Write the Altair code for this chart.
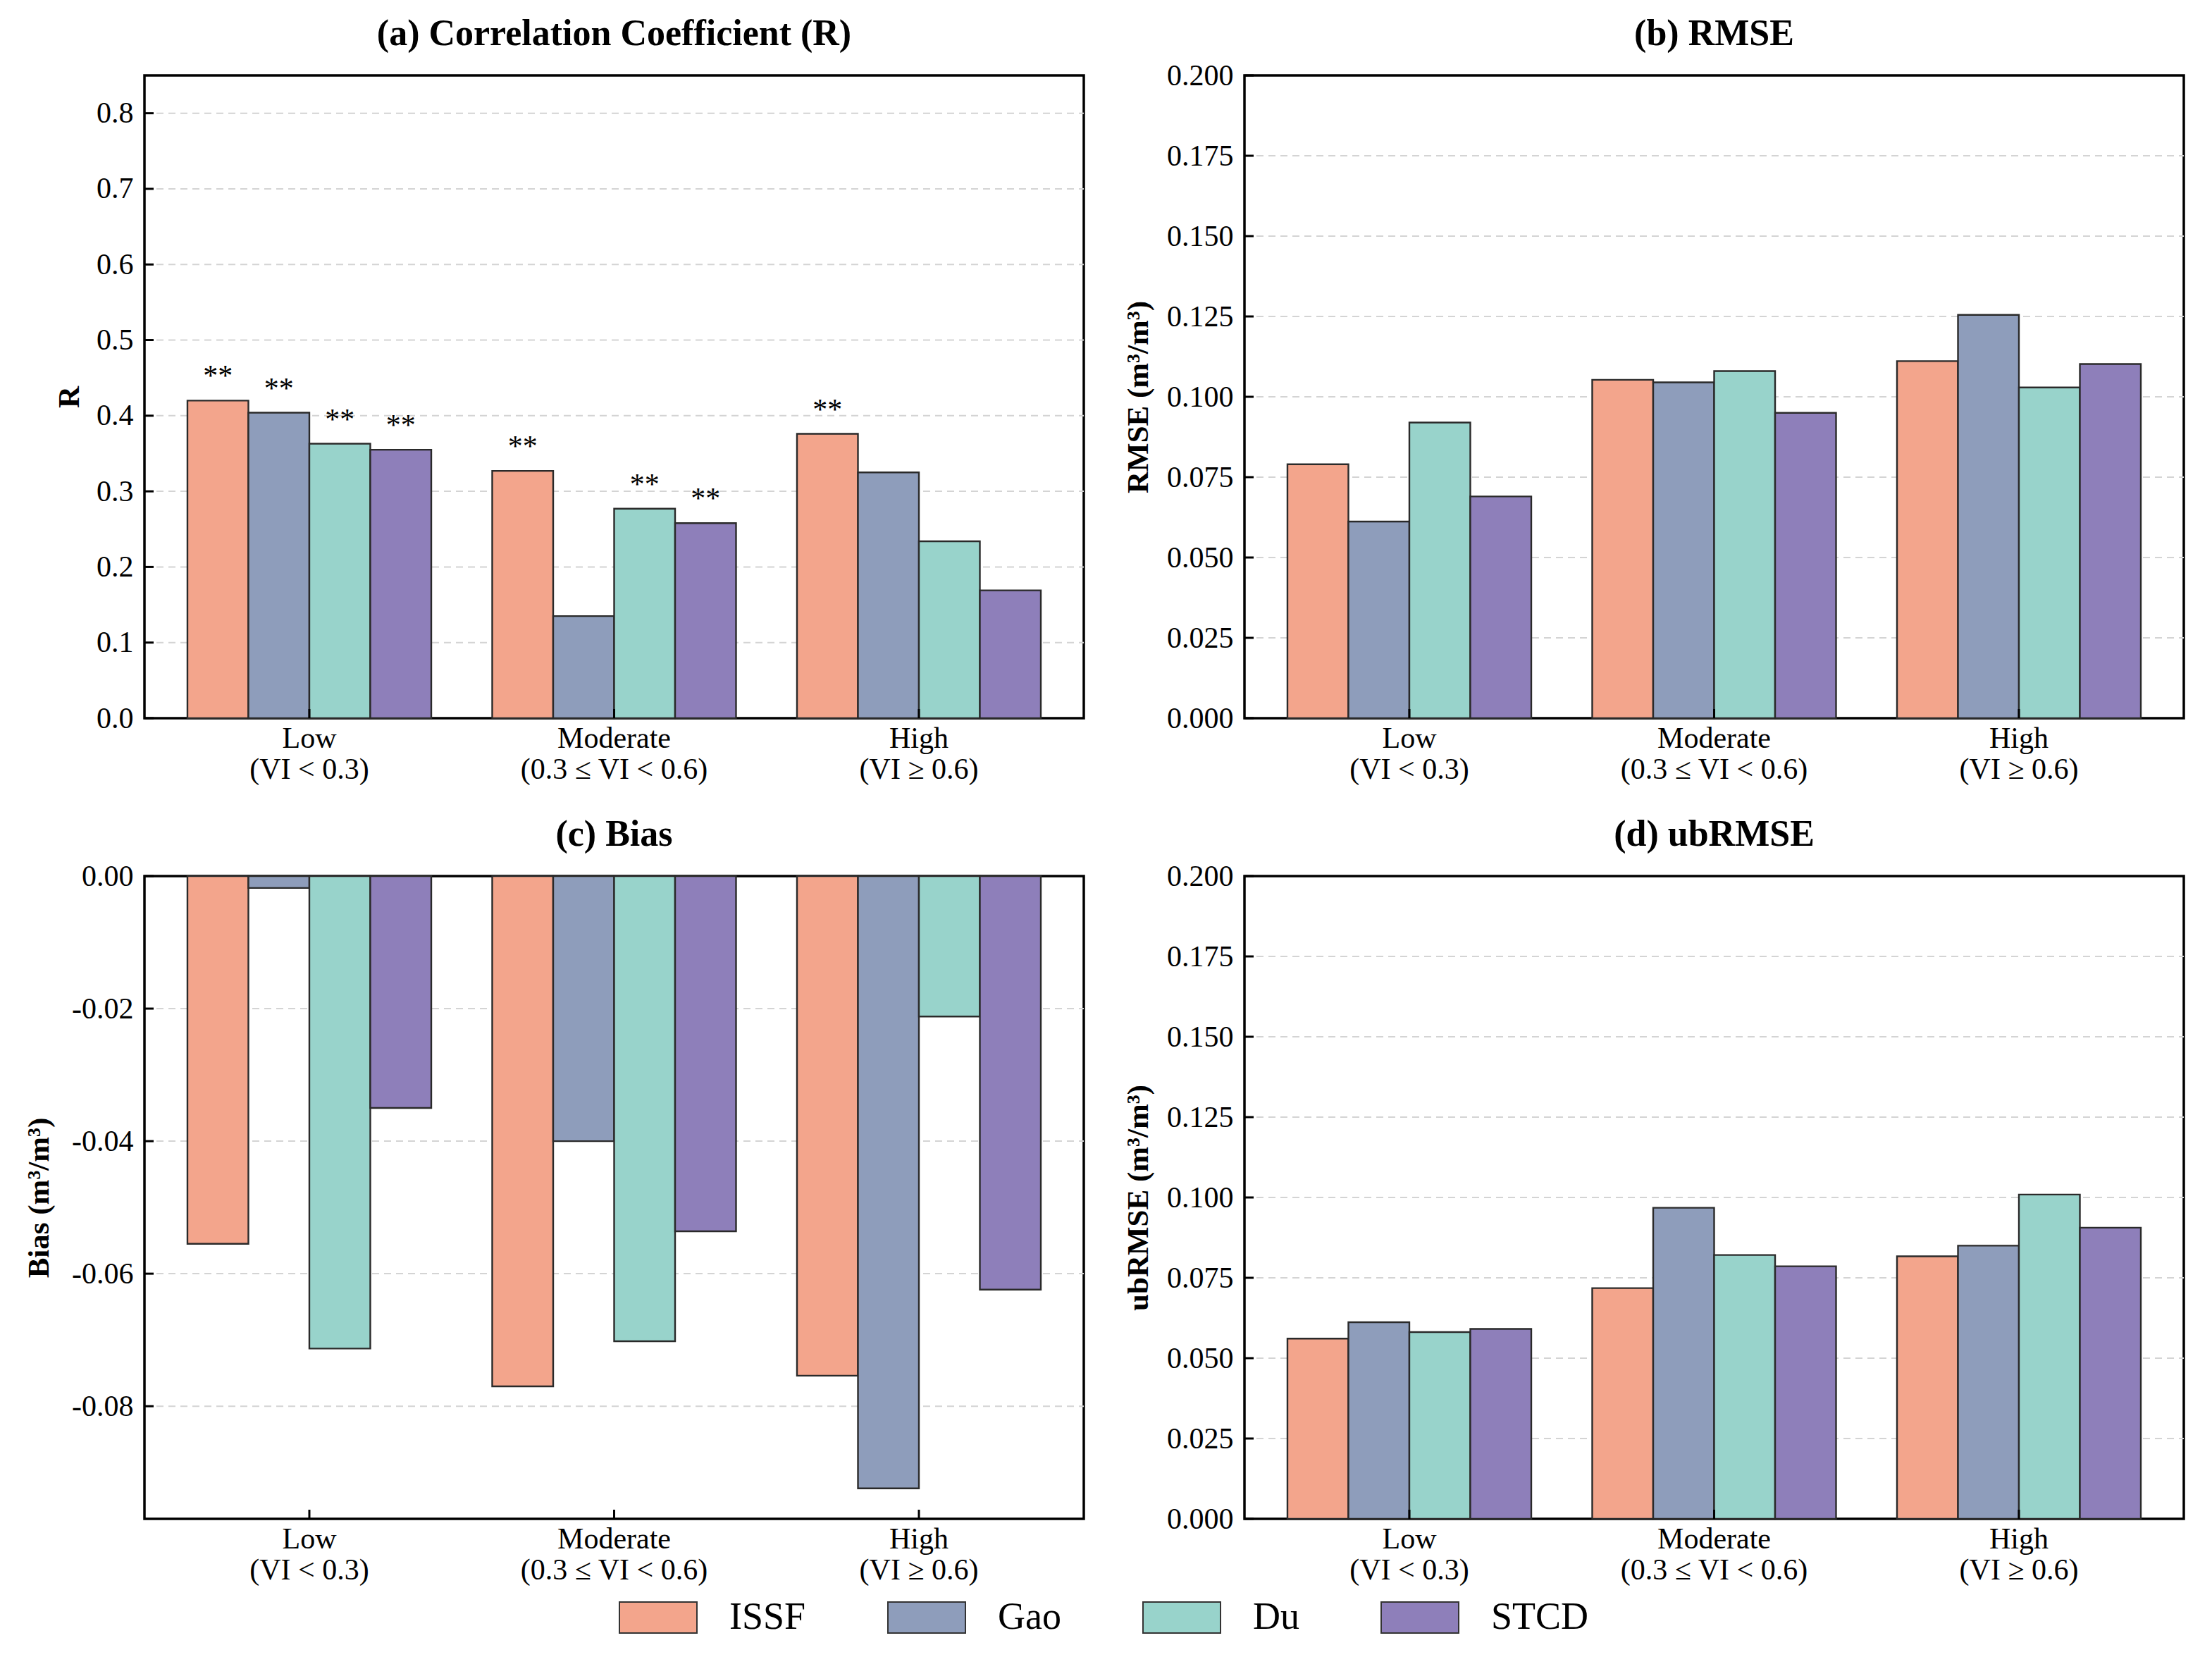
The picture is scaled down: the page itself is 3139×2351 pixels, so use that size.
import altair as alt
import pandas as pd

# ---------------- data ----------------
categories = ["Low", "Moderate", "High"]
sublabels = ["(VI < 0.3)", "(0.3 \u2264 VI < 0.6)", "(VI \u2265 0.6)"]
products = ["ISSF", "Gao", "Du", "STCD"]
colors = ["#F3A58C", "#8E9DBB", "#98D3CB", "#8E7FBA"]

r_issf = [0.420, 0.327, 0.376]
r_gao = [0.404, 0.135, 0.325]
r_du = [0.363, 0.277, 0.234]
r_stcd = [0.355, 0.258, 0.169]
sig_issf = [True, True, True]
sig_gao = [True, False, False]
sig_du = [True, True, False]
sig_stcd = [True, True, False]

rmse_issf = [0.0790, 0.1053, 0.1111]
rmse_gao = [0.0612, 0.1045, 0.1255]
rmse_du = [0.0920, 0.1080, 0.1029]
rmse_stcd = [0.0690, 0.0950, 0.1102]

bias_issf = [-0.0555, -0.0770, -0.0754]
bias_gao = [-0.0018, -0.0400, -0.0924]
bias_du = [-0.0713, -0.0702, -0.0212]
bias_stcd = [-0.0350, -0.0536, -0.0624]

ub_issf = [0.0561, 0.0718, 0.0817]
ub_gao = [0.0612, 0.0968, 0.0850]
ub_du = [0.0581, 0.0821, 0.1009]
ub_stcd = [0.0591, 0.0786, 0.0906]

r_ticks = [0.0, 0.1, 0.2, 0.3, 0.4, 0.5, 0.6, 0.7, 0.8]
err_ticks = [0.0, 0.025, 0.05, 0.075, 0.1, 0.125, 0.15, 0.175, 0.2]
bias_ticks = [0.0, -0.02, -0.04, -0.06, -0.08]

r_grid = [0.1, 0.2, 0.3, 0.4, 0.5, 0.6, 0.7, 0.8]
err_grid = [0.025, 0.05, 0.075, 0.1, 0.125, 0.15, 0.175]
bias_grid = [-0.02, -0.04, -0.06, -0.08]

# ---------------- helpers ----------------
FONT = "Liberation Serif"
W, H = 1333, 912
TICK = 13


def make_df(series, sigs=None):
    rows = []
    for p, vals in zip(products, series):
        for i, c in enumerate(categories):
            rows.append({"cat": c, "product": p, "value": vals[i],
                         "sig": bool(sigs[products.index(p)][i]) if sigs else False})
    return pd.DataFrame(rows)


xlabel_expr = "[datum.value, " + "".join(
    f"datum.value == '{c}' ? '{s}' : " for c, s in zip(categories[:-1], sublabels[:-1])
) + f"'{sublabels[-1]}']"

cat_df = pd.DataFrame({"cat": categories})


def panel(df, title, ytitle, domain, ticks, grid, label_expr, extent, tpad, toff, stars=False):
    xenc = alt.X("cat:N", sort=categories, title=None,
                 scale=alt.Scale(paddingInner=0.2, paddingOuter=0.141),
                 axis=alt.Axis(labelExpr=xlabel_expr, labelFont=FONT, labelFontSize=42,
                               labelLineHeight=44, labelPadding=8, labelAngle=0,
                               labelLimit=0, labelColor="black", ticks=False, domain=False))
    xoff = alt.XOffset("product:N", sort=products,
                       scale=alt.Scale(paddingInner=0, paddingOuter=0))
    yscale = alt.Scale(domain=domain, nice=False, zero=False)
    yaxis = alt.Axis(values=ticks, grid=False, ticks=False, domain=False,
                     labelExpr=label_expr,
                     labelFont=FONT, labelFontSize=42, labelColor="black",
                     labelPadding=16, minExtent=extent, maxExtent=extent,
                     title=ytitle, titleFont=FONT, titleFontSize=43,
                     titleFontWeight="bold", titleColor="black", titlePadding=tpad)
    gdf = pd.DataFrame({"value": grid})
    gl = alt.Chart(gdf).mark_rule(color="#d4d4d4", strokeWidth=2, strokeDash=[10, 7]).encode(
        y=alt.Y("value:Q", scale=yscale), x=alt.value(0), x2=alt.value(W))
    bars = alt.Chart(df).mark_bar(stroke="#2a2a2a", strokeWidth=2.4).encode(
        x=xenc, xOffset=xoff,
        y=alt.Y("value:Q", scale=yscale, axis=yaxis),
        color=alt.Color("product:N", sort=products,
                        scale=alt.Scale(domain=products, range=colors),
                        legend=alt.Legend(title=None, orient="none", direction="horizontal",
                                          columns=4, legendX=673, legendY=2132,
                                          symbolType="M-1,-0.4L1,-0.4L1,0.4L-1,0.4Z",
                                          symbolSize=12100, symbolStrokeColor="#333333",
                                          symbolStrokeWidth=2, symbolOpacity=1,
                                          labelFont=FONT, labelFontSize=54,
                                          labelColor="black", labelOffset=45,
                                          columnPadding=112)),
    )
    tdf = pd.DataFrame({"value": ticks})
    yt = alt.Chart(tdf).mark_rule(color="black", strokeWidth=3).encode(
        y=alt.Y("value:Q", scale=yscale), x=alt.value(0), x2=alt.value(TICK))
    xt = alt.Chart(cat_df).mark_rule(color="black", strokeWidth=3).encode(
        x=alt.X("cat:N", sort=categories), y=alt.value(H), y2=alt.value(H - TICK))
    layers = [gl, bars, yt, xt]
    if stars:
        st = alt.Chart(df).transform_filter("datum.sig").mark_text(
            text="**", font=FONT, fontSize=42, color="black",
            baseline="alphabetic", dy=-21).encode(
            x=alt.X("cat:N", sort=categories), xOffset=xoff,
            y=alt.Y("value:Q", scale=yscale))
        layers.append(st)
    return alt.layer(*layers).properties(
        width=W, height=H,
        title=alt.TitleParams(title, font=FONT, fontSize=52, fontWeight="bold",
                              color="black", anchor="middle", frame="group", offset=toff))


df_r = make_df([r_issf, r_gao, r_du, r_stcd], [sig_issf, sig_gao, sig_du, sig_stcd])
df_rmse = make_df([rmse_issf, rmse_gao, rmse_du, rmse_stcd])
df_bias = make_df([bias_issf, bias_gao, bias_du, bias_stcd])
df_ub = make_df([ub_issf, ub_gao, ub_du, ub_stcd])

fmt1 = "format(datum.value, '.1f')"
fmt3 = "format(datum.value, '.3f')"
fmtb = "datum.value == 0 ? '0.00' : '-' + format(abs(datum.value), '.2f')"

pa = panel(df_r, "(a) Correlation Coefficient (R)", "R", [0, 0.85], r_ticks, r_grid,
           fmt1, 67, 18, 32, stars=True)
pb = panel(df_rmse, "(b) RMSE", "RMSE (m\u00b3/m\u00b3)", [0, 0.2], err_ticks, err_grid,
           fmt3, 112, 17, 11)
pc = panel(df_bias, "(c) Bias", "Bias (m\u00b3/m\u00b3)", [-0.097, 0], bias_ticks, bias_grid,
           fmtb, 104, 24, 11)
pd_ = panel(df_ub, "(d) ubRMSE", "ubRMSE (m\u00b3/m\u00b3)", [0, 0.2], err_ticks, err_grid,
            fmt3, 112, 17, 11)

chart = alt.concat(pa, pb, pc, pd_, columns=2,
                   spacing={"row": 42, "column": 51}).properties(
    padding={"left": 24, "top": 12, "right": 10, "bottom": 10}
).configure_view(stroke="black", strokeWidth=3.5)

chart.save("out.html", embed_options={"renderer": "svg", "actions": False})
